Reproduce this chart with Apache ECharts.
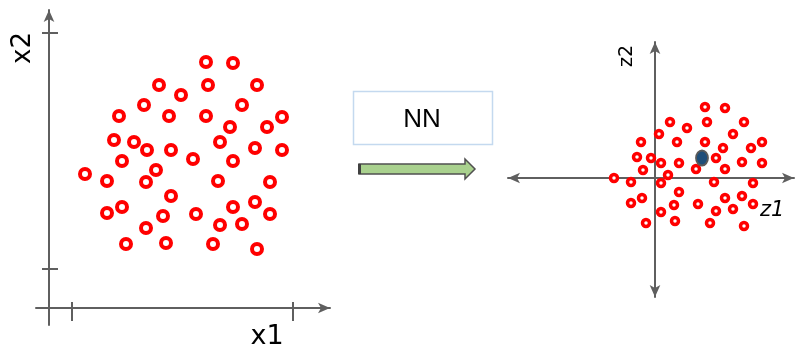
<!DOCTYPE html>
<html>
<head>
<meta charset="utf-8">
<script src="https://cdn.jsdelivr.net/npm/echarts@6/dist/echarts.min.js"></script>
<style>
  html, body { margin: 0; padding: 0; background: #fff; }
  #chart { width: 796px; height: 346px; }
</style>
</head>
<body>
<div id="chart"></div>
<script>
// Input space (x1, x2): samples before the network
const inputPoints = [
  [157,246],[184,245],[110,223],[159,223],[208,223],[132,213],[95,203],[193,203],
  [70,192],[120,192],[157,192],[233,191],[181,181],[218,181],[65,168],[85,166],
  [171,166],[98,158],[122,158],[206,160],[233,158],[144,149],[73,147],[184,147],
  [107,138],[36,134],[58,127],[97,126],[169,127],[221,126],[122,112],[206,106],
  [73,101],[184,101],[58,95],[147,94],[221,94],[114,92],[171,83],[193,84],
  [97,80],[77,64],[117,65],[164,64],[208,59]
];
const inputTicksX = [23, 244];
const inputTicksY = [39, 275];

// Latent space (z1, z2): the same samples after the network
const latentPoints = [
  [50,71],[70,70],[15,56],[52,56],[89,56],[32,50],[4,44],[78,44],
  [-14,36],[22,36],[50,36],[107,36],[68,30],[96,30],[-18,21],[-4,20],
  [61,20],[6,15],[24,15],[87,16],[107,15],[41,9],[-12,8],[70,9],
  [13,3],[-41,0],[-24,-4],[6,-5],[59,-4],[98,-5],[24,-14],[87,-18],
  [-13,-20],[70,-20],[-24,-25],[43,-26],[98,-26],[19,-27],[61,-33],[78,-31],
  [6,-34],[-9,-45],[20,-43],[55,-45],[89,-48]
];
const highlighted = [[47,20]];

const axisGray = '#5f5f5f';
const ringRed = '#ff0000';
const font = '"DejaVu Sans", "Liberation Sans", sans-serif';

const chart = echarts.init(document.getElementById('chart'), null, { renderer: 'canvas' });

const hidden = { show: false };
const tickStyle = { color: axisGray, width: 2 };

chart.setOption({
  animation: false,
  backgroundColor: '#ffffff',
  grid: [
    { left: 36, top: 10, width: 294, height: 315 },
    { left: 508, top: 42, width: 286, height: 255 }
  ],
  xAxis: [
    {
      gridIndex: 0, type: 'value', min: -13, max: 281, position: 'bottom',
      axisLine: { onZero: true, onZeroAxisIndex: 0, lineStyle: { color: axisGray, width: 2 },
                  symbol: ['none', 'arrow'], symbolSize: [8, 12] },
      axisTick: { show: true, customValues: inputTicksX, length: 13, lineStyle: tickStyle },
      axisLabel: hidden, splitLine: hidden
    },
    {
      // upper half of the crossing ticks on x1
      gridIndex: 0, type: 'value', min: -13, max: 281, position: 'top',
      axisLine: { show: false, onZero: true, onZeroAxisIndex: 0 },
      axisTick: { show: true, customValues: inputTicksX, length: 6, lineStyle: tickStyle },
      axisLabel: hidden, splitLine: hidden
    },
    {
      gridIndex: 1, type: 'value', min: -147, max: 139,
      axisLine: { onZero: true, lineStyle: { color: axisGray, width: 2 },
                  symbol: ['arrow', 'arrow'], symbolSize: [8, 12] },
      axisTick: hidden, axisLabel: hidden, splitLine: hidden
    }
  ],
  yAxis: [
    {
      gridIndex: 0, type: 'value', min: -17, max: 298, position: 'left',
      axisLine: { onZero: true, onZeroAxisIndex: 0, lineStyle: { color: axisGray, width: 2 },
                  symbol: ['none', 'arrow'], symbolSize: [8, 12] },
      axisTick: { show: true, customValues: inputTicksY, length: 7, lineStyle: tickStyle },
      axisLabel: hidden, splitLine: hidden
    },
    {
      // right half of the crossing ticks on x2
      gridIndex: 0, type: 'value', min: -17, max: 298, position: 'right',
      axisLine: { show: false, onZero: true, onZeroAxisIndex: 0 },
      axisTick: { show: true, customValues: inputTicksY, length: 9, lineStyle: tickStyle },
      axisLabel: hidden, splitLine: hidden
    },
    {
      gridIndex: 1, type: 'value', min: -119, max: 136,
      axisLine: { onZero: true, lineStyle: { color: axisGray, width: 2 },
                  symbol: ['arrow', 'arrow'], symbolSize: [8, 12] },
      axisTick: hidden, axisLabel: hidden, splitLine: hidden
    }
  ],
  series: [
    {
      type: 'scatter', xAxisIndex: 0, yAxisIndex: 0, data: inputPoints,
      symbol: 'circle', symbolSize: 10,
      itemStyle: { color: '#ffffff', borderColor: ringRed, borderWidth: 4, opacity: 1 },
      silent: true
    },
    {
      type: 'scatter', xAxisIndex: 2, yAxisIndex: 2, data: latentPoints,
      symbol: 'circle', symbolSize: 7,
      itemStyle: { color: '#ffffff', borderColor: ringRed, borderWidth: 3.5, opacity: 1 },
      silent: true
    },
    {
      type: 'scatter', xAxisIndex: 2, yAxisIndex: 2, data: highlighted,
      symbol: 'circle', symbolSize: [12, 15], z: 5,
      itemStyle: { color: '#1f4e79', borderColor: '#5a5a5a', borderWidth: 2, opacity: 1 },
      silent: true
    }
  ],
  graphic: [
    // axis titles
    { type: 'text', x: 23, y: 48, rotation: Math.PI / 2,
      style: { text: 'x2', font: '26px ' + font, fill: '#000', align: 'center', verticalAlign: 'middle' } },
    { type: 'text', x: 267, y: 337,
      style: { text: 'x1', font: '27px ' + font, fill: '#000', align: 'center', verticalAlign: 'middle' } },
    { type: 'text', x: 627, y: 56, rotation: Math.PI / 2,
      style: { text: 'z2', font: '19px ' + font, fill: '#000', align: 'center', verticalAlign: 'middle' } },
    { type: 'text', x: 760, y: 211,
      style: { text: 'z1', font: 'italic 21px ' + font, fill: '#000', align: 'left', verticalAlign: 'middle' } },
    // network box
    { type: 'rect', shape: { x: 353.5, y: 91.5, width: 139, height: 53 },
      style: { fill: '#ffffff', stroke: '#c4d9ef', lineWidth: 1.5 } },
    { type: 'text', x: 422, y: 120,
      style: { text: 'NN', font: '26px "Liberation Sans", "DejaVu Sans", sans-serif', fill: '#000',
               align: 'center', verticalAlign: 'middle' } },
    // mapping arrow
    { type: 'polygon',
      shape: { points: [[359,164],[465,164],[465,159],[475,169],[465,179],[465,174],[359,174]] },
      style: { fill: '#a9d18e', stroke: '#505050', lineWidth: 1.5 } },
    { type: 'line', shape: { x1: 359.5, y1: 164, x2: 359.5, y2: 174 },
      style: { stroke: '#404040', lineWidth: 3 } }
  ]
});
</script>
</body>
</html>
